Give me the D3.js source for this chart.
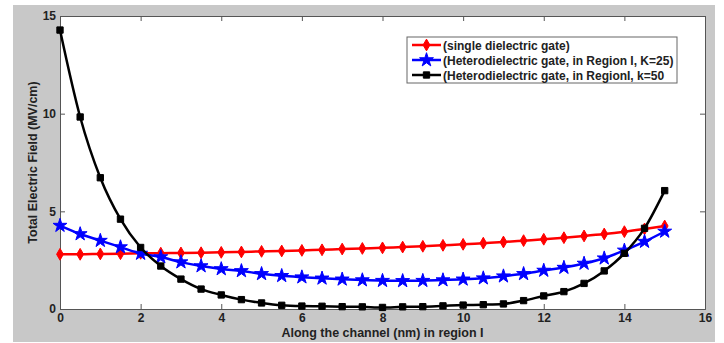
<!DOCTYPE html>
<html>
<head>
<meta charset="utf-8">
<script src="https://cdn.jsdelivr.net/npm/d3@7"></script>
<style>
  body { margin: 0; background: #fff; }
  svg { font-family: "Liberation Sans", Arial, sans-serif; font-weight: bold; }
</style>
</head>
<body>
<svg id="chart" width="724" height="343"></svg>
<script>
// x positions along the channel (nm)
const positions = [0, 0.5, 1, 1.5, 2, 2.5, 3, 3.5, 4, 4.5, 5, 5.5, 6, 6.5, 7, 7.5,
  8, 8.5, 9, 9.5, 10, 10.5, 11, 11.5, 12, 12.5, 13, 13.5, 14, 14.5, 15];

const singleGate = [2.8, 2.8, 2.82, 2.83, 2.85, 2.86, 2.87, 2.88, 2.9, 2.92, 2.95, 2.97,
  3.0, 3.03, 3.07, 3.1, 3.13, 3.17, 3.21, 3.26, 3.31, 3.37, 3.43, 3.5, 3.57, 3.65,
  3.74, 3.84, 3.96, 4.1, 4.25];

const heteroK25 = [4.27, 3.84, 3.5, 3.17, 2.84, 2.66, 2.4, 2.2, 2.05, 1.95, 1.8, 1.7,
  1.63, 1.57, 1.52, 1.48, 1.45, 1.44, 1.45, 1.48, 1.52, 1.58, 1.68, 1.8, 1.97, 2.12,
  2.33, 2.6, 3.0, 3.45, 3.97];

const heteroK50 = [14.28, 9.83, 6.72, 4.6, 3.15, 2.2, 1.53, 1.02, 0.72, 0.48, 0.31, 0.19,
  0.15, 0.14, 0.12, 0.11, 0.08, 0.11, 0.12, 0.16, 0.2, 0.22, 0.26, 0.43, 0.67, 0.89,
  1.31, 1.95, 2.85, 4.13, 6.06];

const xTicks = [0, 2, 4, 6, 8, 10, 12, 14, 16];
const yTicks = [0, 5, 10, 15];

const seriesNames = [
  '(single dielectric gate)',
  '(Heterodielectric gate, in Region I, K=25)',
  '(Heterodielectric gate, in RegionI, k=50'
];

const series = [
  {name: seriesNames[0], values: singleGate, color: '#ff0000', marker: 'diamond'},
  {name: seriesNames[1], values: heteroK25, color: '#0000ff', marker: 'star'},
  {name: seriesNames[2], values: heteroK50, color: '#000000', marker: 'square'}
];

const svg = d3.select('#chart');

// grey figure background like matlab
svg.append('rect')
  .attr('x', 13).attr('y', 5)
  .attr('width', 702).attr('height', 337)
  .style('fill', '#c8c8c8');

const margin = {top: 16, left: 60};
const width = 645, height = 293;

const g = svg.append('g')
  .attr('transform', 'translate(' + margin.left + ',' + margin.top + ')');

g.append('rect')
  .attr('width', width).attr('height', height)
  .style('fill', '#fff');

const x = d3.scaleLinear().domain([0, 16]).range([0, width]);
const y = d3.scaleLinear().domain([0, 15]).range([height, 0]);

const tickColor = '#555';

// axes - ticks point inward, on all four sides
const xAxis = g.append('g')
  .attr('transform', 'translate(0,' + height + ')')
  .call(d3.axisBottom(x).tickValues(xTicks).tickSize(-5).tickPadding(4));
const xTop = g.append('g')
  .call(d3.axisTop(x).tickValues(xTicks).tickSize(-5).tickFormat(''));
const yAxis = g.append('g')
  .call(d3.axisLeft(y).tickValues(yTicks).tickSize(-5).tickPadding(4));
const yRight = g.append('g')
  .attr('transform', 'translate(' + width + ',0)')
  .call(d3.axisRight(y).tickValues(yTicks).tickSize(-5).tickFormat(''));

[xAxis, xTop, yAxis, yRight].forEach(a => {
  a.selectAll('path, line').style('stroke', tickColor).style('stroke-width', 1);
  a.selectAll('text')
    .style('font-family', '"Liberation Sans", Arial, sans-serif')
    .style('font-weight', 'bold')
    .style('font-size', '12px')
    .style('fill', '#222');
});

const line = d3.line()
  .x((d, i) => x(positions[i]))
  .y(d => y(d))
  .curve(d3.curveMonotoneX);

const symbols = {
  diamond: d3.symbol().type(d3.symbolDiamond).size(40),
  star: d3.symbol().type(d3.symbolStar).size(60),
  square: d3.symbol().type(d3.symbolSquare).size(40)
};

series.forEach(s => {
  g.append('path')
    .datum(s.values)
    .attr('d', line)
    .style('fill', 'none')
    .style('stroke', s.color)
    .style('stroke-width', 2.5);

  g.selectAll('.m-' + s.marker)
    .data(s.values)
    .enter().append('path')
    .attr('class', 'm-' + s.marker)
    .attr('transform', (d, i) => 'translate(' + x(positions[i]) + ',' + y(d) + ')')
    .attr('d', symbols[s.marker]())
    .style('fill', s.color)
    .style('stroke', s.color)
    .style('stroke-width', 1);
});

// axis titles
svg.append('text')
  .attr('x', margin.left + width / 2)
  .attr('y', 337)
  .attr('text-anchor', 'middle')
  .style('font-size', '12.5px')
  .style('fill', '#222')
  .text('Along the channel (nm) in region I');

svg.append('text')
  .attr('transform', 'translate(37,' + (margin.top + height / 2) + ') rotate(-90)')
  .attr('text-anchor', 'middle')
  .style('font-size', '12.5px')
  .style('fill', '#222')
  .text('Total Electric Field (MV/cm)');

// legend
const legend = svg.append('g').attr('transform', 'translate(407,37)');
legend.append('rect')
  .attr('width', 270).attr('height', 46)
  .style('fill', '#fff')
  .style('stroke', '#666')
  .style('stroke-width', 1);

series.forEach((s, i) => {
  const ly = 8 + 15 * i;
  legend.append('line')
    .attr('x1', 5).attr('x2', 34)
    .attr('y1', ly).attr('y2', ly)
    .style('stroke', s.color)
    .style('stroke-width', 2.5);
  legend.append('path')
    .attr('transform', 'translate(19.5,' + ly + ')')
    .attr('d', symbols[s.marker]())
    .style('fill', s.color)
    .style('stroke', s.color);
  legend.append('text')
    .attr('x', 36)
    .attr('y', ly + 4.5)
    .style('font-size', '12px')
    .style('fill', '#222')
    .text(s.name);
});
</script>
</body>
</html>
